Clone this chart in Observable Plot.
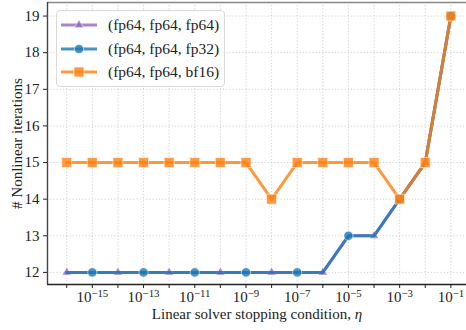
<!DOCTYPE html>
<html>
<head>
<meta charset="utf-8">
<script src="https://cdn.jsdelivr.net/npm/d3@7"></script>
<script src="https://cdn.jsdelivr.net/npm/@observablehq/plot@0.6"></script>
<style>
  html, body { margin: 0; padding: 0; background: #fff; }
  #wrap { position: relative; width: 466px; height: 330px; overflow: hidden; }
  #legend { position: absolute; left: 56px; top: 10px; width: 169px; height: 77px;
    border: 1px solid #d9d9d9; border-radius: 4px; background: rgba(255,255,255,0.8);
    box-sizing: border-box; }
  .row { position: absolute; left: 0; height: 20px; display: flex; align-items: center; }
  .row svg { margin-left: 4px; }
  .row span { margin-left: 11px; white-space: nowrap; font-family: "Liberation Serif", "DejaVu Serif", serif; font-size: 15.5px; color: #222; }
</style>
</head>
<body>
<div id="wrap"><div id="legend"></div></div>
<script>
// --- data ---
const etaExponents = [-16, -15, -14, -13, -12, -11, -10, -9, -8, -7, -6, -5, -4, -3, -2, -1];
const seriesNames = ["(fp64, fp64, fp64)", "(fp64, fp64, fp32)", "(fp64, fp64, bf16)"];
const itersFp64 = [12, 12, 12, 12, 12, 12, 12, 12, 12, 12, 12, 13, 13, 14, 15, 19];
const itersFp32 = [12, 12, 12, 12, 12, 12, 12, 12, 12, 12, 12, 13, 13, 14, 15, 19];
const itersBf16 = [15, 15, 15, 15, 15, 15, 15, 15, 14, 15, 15, 15, 15, 14, 15, 19];
const yTicks = [12, 13, 14, 15, 16, 17, 18, 19];
const xLabel = "Linear solver stopping condition, ";
const xLabelSymbol = "η";
const yLabel = "# Nonlinear iterations";

const colors = ["#9467bd", "#1f77b4", "#ff7f0e"];
const symbols = ["triangle", "circle", "square"];
const radii = [3.4, 4.6, 5.6];
const markEvery = [i => i % 2 === 0, i => i % 2 === 1, i => true];

const allIters = [itersFp64, itersFp32, itersBf16];
const tables = allIters.map((vals, s) => etaExponents.map((e, i) => ({eta: Math.pow(10, e), iters: vals[i], i, series: seriesNames[s]})));

const xDomain = [Math.pow(10, -16.75), Math.pow(10, -0.39)];
const yDomain = [11.67, 19.37];
const font = "Liberation Serif, DejaVu Serif, serif";

const marks = [
  Plot.gridX(etaExponents.map(e => Math.pow(10, e)), {stroke: "#b8b8b8", strokeOpacity: 0.8, strokeDasharray: "1.2,2", strokeWidth: 0.8}),
  Plot.gridY(yTicks, {stroke: "#b8b8b8", strokeOpacity: 0.8, strokeDasharray: "1.2,2", strokeWidth: 0.8}),
  Plot.ruleY([yDomain[1]], {stroke: "#888", strokeWidth: 1.6}),
];
tables.forEach((t, s) => {
  marks.push(Plot.line(t, {x: "eta", y: "iters", stroke: colors[s], strokeWidth: 3, strokeOpacity: 0.8}));
  marks.push(Plot.dot(t.filter(d => markEvery[s](d.i)), {x: "eta", y: "iters", symbol: symbols[s], r: radii[s],
    fill: colors[s], fillOpacity: 0.8, stroke: "white", strokeOpacity: 0.55, strokeWidth: 1}));
});
marks.push(
  Plot.ruleX([xDomain[0]], {stroke: "#444", strokeWidth: 1.4}),
  Plot.ruleY([yDomain[0]], {stroke: "#222", strokeWidth: 1.4}),
  Plot.axisX(etaExponents.map(e => Math.pow(10, e)), {
    tickSize: 4, tickPadding: 3, stroke: "#222", fontSize: 15,
    tickFormat: d => { const e = Math.round(Math.log10(d)); return e % 2 ? `10^${e}` : ""; },
    label: xLabel, labelArrow: "none", labelAnchor: "center", labelOffset: 34
  }),
  Plot.axisY(yTicks, {
    tickSize: 4, tickPadding: 4, stroke: "#222", fontSize: 15,
    label: yLabel, labelArrow: "none", labelAnchor: "center", labelOffset: 36
  })
);

const chart = Plot.plot({
  width: 466, height: 330,
  marginLeft: 47, marginRight: 0, marginTop: 2, marginBottom: 46,
  style: {fontFamily: font, fontSize: "15px", color: "#222", background: "white", overflow: "visible"},
  x: {type: "log", domain: xDomain},
  y: {domain: yDomain},
  marks
});
document.getElementById("wrap").prepend(chart);

// superscript exponents on the x tick labels
d3.select(chart).selectAll('g[aria-label="x-axis tick label"] text').each(function() {
  const t = this.textContent;
  if (!t || t.indexOf("^") < 0) return;
  const [base, exp] = t.split("^");
  const sel = d3.select(this);
  sel.text(null);
  sel.append("tspan").text(base);
  sel.append("tspan").attr("dy", "-0.5em").attr("font-size", "0.72em").text(exp.replace("-", "\u2212"));
});
// clean labels (strip any arrow) and add italic eta to the x label
d3.select(chart).selectAll('g[aria-label="x-axis label"] text').each(function() {
  const sel = d3.select(this);
  sel.text(null);
  sel.append("tspan").text(xLabel);
  sel.append("tspan").attr("font-style", "italic").text(xLabelSymbol);
});
d3.select(chart).selectAll('g[aria-label="y-axis label"] text').each(function() {
  d3.select(this).text(yLabel);
});

// legend
const legend = d3.select("#legend");
const rowTops = [4, 28, 51];
seriesNames.forEach((name, s) => {
  const row = legend.append("div").attr("class", "row").style("top", rowTops[s] + "px");
  const svg = row.append("svg").attr("width", 36).attr("height", 20);
  svg.append("line").attr("x1", 0).attr("x2", 36).attr("y1", 10).attr("y2", 10)
    .attr("stroke", colors[s]).attr("stroke-width", 3).attr("stroke-opacity", 0.8);
  const sym = [d3.symbolTriangle, d3.symbolCircle, d3.symbolSquare][s];
  svg.append("path").attr("d", d3.symbol(sym, Math.PI * radii[s] * radii[s])())
    .attr("transform", "translate(18,10)").attr("fill", colors[s]).attr("fill-opacity", 0.8)
    .attr("stroke", "white").attr("stroke-opacity", 0.55);
  row.append("span").text(name);
});
</script>
</body>
</html>
